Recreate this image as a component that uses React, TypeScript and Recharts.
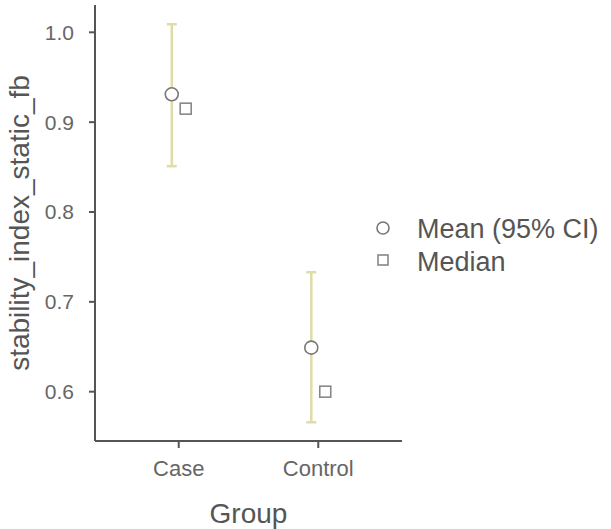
import {
  ComposedChart,
  Scatter,
  ErrorBar,
  XAxis,
  YAxis
} from 'recharts'

const groups = ['Case', 'Control']
const means = [0.931, 0.649]
const ciLow = [0.851, 0.566]
const ciHigh = [1.009, 0.733]
const medians = [0.915, 0.6]
const yTicks = [0.6, 0.7, 0.8, 0.9, 1.0]
const legendItems = ['Mean (95% CI)', 'Median']

const DODGE = 0.05
const FONT = '"Liberation Sans", Arial, sans-serif'
const AXIS = '#555555'
const TEXT = '#666666'
const CI_COLOR = '#e0dca6'

const meanData = groups.map((g, i) => ({
  name: g,
  x: i + 1 - DODGE,
  y: means[i],
  err: [means[i] - ciLow[i], ciHigh[i] - means[i]]
}))

const medianData = groups.map((g, i) => ({
  name: g,
  x: i + 1 + DODGE,
  y: medians[i]
}))

const Circle = (props: any) => (
  <circle cx={props.cx} cy={props.cy} r={6.5} fill="#fff" stroke="#777" strokeWidth={1.6} />
)

const Square = (props: any) => (
  <rect x={props.cx - 5.5} y={props.cy - 5.5} width={11} height={11} fill="#fff" stroke="#888" strokeWidth={1.6} />
)

const YLabel = (props: any) => {
  const { viewBox } = props
  const cx = 19
  const cy = viewBox.y + viewBox.height / 2
  return (
    <text
      x={cx}
      y={cy}
      transform={`rotate(-90 ${cx} ${cy})`}
      textAnchor="middle"
      dominantBaseline="central"
      fill={AXIS}
      fontSize={28}
      fontFamily={FONT}
    >
      stability_index_static_fb
    </text>
  )
}

// legend drawn outside the chart so it does not eat plot height
const LegendBox = () => (
  <svg width={236} height={70} style={{ position: 'absolute', left: 375, top: 218, overflow: 'visible', fontFamily: FONT }}>
    <circle cx={8} cy={10} r={6} fill="#fff" stroke="#777" strokeWidth={1.6} />
    <text x={42} y={20} fontSize={27} fill={AXIS}>{legendItems[0]}</text>
    <rect x={3} y={37} width={10} height={10} fill="#fff" stroke="#888" strokeWidth={1.6} />
    <text x={42} y={53} fontSize={27} fill={AXIS}>{legendItems[1]}</text>
  </svg>
)

export default function App() {
  return (
    <div style={{ position: 'absolute', left: 0, top: 0, width: 611, height: 529 }}>
      <ComposedChart
        width={611}
        height={529}
        margin={{ top: 5, right: 209, bottom: 0, left: 0 }}
      >
        <XAxis
          dataKey="x"
          type="number"
          domain={[0.4, 2.6]}
          ticks={[1, 2]}
          tickFormatter={(v: number) => groups[v - 1]}
          height={88}
          stroke={AXIS}
          strokeWidth={2}
          tickSize={7}
          tickMargin={12}
          tick={{ fill: TEXT, fontSize: 22, fontFamily: FONT }}
          label={{ value: 'Group', position: 'insideBottom', offset: 6, fill: AXIS, fontSize: 28, fontFamily: FONT }}
        />
        <YAxis
          dataKey="y"
          type="number"
          domain={[0.5451, 1.0304]}
          allowDataOverflow
          ticks={yTicks}
          tickFormatter={(v: number) => v.toFixed(1)}
          width={95}
          stroke={AXIS}
          strokeWidth={2}
          tickSize={6}
          tickMargin={15}
          tick={{ fill: TEXT, fontSize: 21, fontFamily: FONT }}
          label={<YLabel />}
        />
        <Scatter data={meanData} dataKey="y" shape={<Circle />} isAnimationActive={false}>
          <ErrorBar dataKey="err" direction="y" width={5} stroke={CI_COLOR} strokeWidth={2.5} />
        </Scatter>
        <Scatter data={medianData} dataKey="y" shape={<Square />} isAnimationActive={false} />
      </ComposedChart>
      <LegendBox />
    </div>
  )
}
